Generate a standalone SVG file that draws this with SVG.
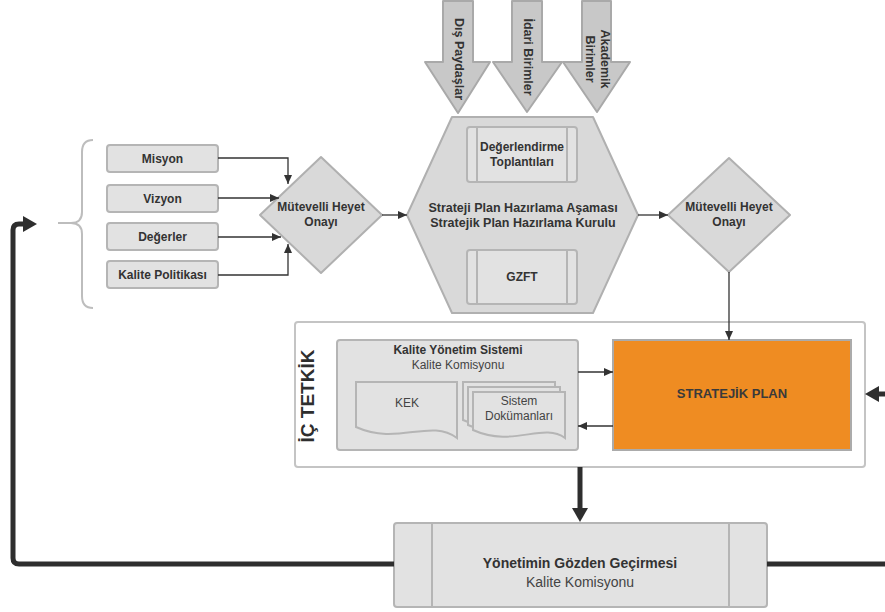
<svg xmlns="http://www.w3.org/2000/svg" width="885" height="612" viewBox="0 0 885 612">
<style>
  text { font-family: "Liberation Sans", Arial, sans-serif; fill: #333; }
  .b { font-weight: bold; font-size: 12px; }
  .v { font-weight: bold; font-size: 12.5px; }
  .r { font-size: 12px; fill: #444; }
  .box { fill: #e2e2e2; stroke: #b5b5b5; stroke-width: 2; }
  .shape { fill: #d9d9d9; stroke: #b0b0b0; stroke-width: 2; }
  .arr { fill: #c8c8c8; stroke: #a9a9a9; stroke-width: 2; stroke-linejoin: round; }
  .thin { fill: none; stroke: #333; stroke-width: 1.3; }
  .thick { fill: none; stroke: #2e2e2e; stroke-width: 5; }
  .sep { stroke: #b5b5b5; stroke-width: 2; }
</style>
<defs>
  <marker id="ah" markerUnits="userSpaceOnUse" markerWidth="9" markerHeight="8" viewBox="0 0 9 8" refX="9" refY="4" orient="auto">
    <path d="M0,0 L9,4 L0,8 z" fill="#333"/>
  </marker>
  <marker id="bh" markerUnits="userSpaceOnUse" markerWidth="14" markerHeight="16" viewBox="0 0 14 16" refX="0" refY="8" orient="auto">
    <path d="M0,0 L14,8 L0,16 z" fill="#2e2e2e"/>
  </marker>
</defs>

<!-- top input arrows -->
<g id="dis-paydaslar">
  <polygon class="arr" points="443,1 473,1 473,62 490,62 458,113 425,62 443,62"/>
  <text class="v" transform="translate(459,59) rotate(90)" y="4" text-anchor="middle">Dış Paydaşlar</text>
</g>
<g id="idari-birimler">
  <polygon class="arr" points="512,1 542,1 542,62 562,62 527,112 493,62 512,62"/>
  <text class="v" transform="translate(528,57) rotate(90)" y="4" text-anchor="middle">İdari Birimler</text>
</g>
<g id="akademik-birimler">
  <polygon class="arr" points="582,1 611,1 611,62 630,62 597,112 563,62 582,62"/>
  <text class="v" transform="translate(597,59) rotate(90)" text-anchor="middle"><tspan x="0" y="-4">Akademik</tspan><tspan x="0" y="11">Birimler</tspan></text>
</g>

<!-- brace -->
<g id="brace">
  <path d="M93,140 Q82,140 82,152 L82,212 Q82,223 71,223 L58,223 M71,223 Q82,223 82,234 L82,296 Q82,308 93,308" fill="none" stroke="#bdbdbd" stroke-width="2"/>
</g>

<!-- left boxes -->
<g id="misyon">
  <rect class="box" x="107" y="145" width="111" height="27" rx="3"/>
  <text class="b" x="162.5" y="163" text-anchor="middle">Misyon</text>
</g>
<g id="vizyon">
  <rect class="box" x="107" y="185" width="111" height="27" rx="3"/>
  <text class="b" x="162.5" y="203" text-anchor="middle">Vizyon</text>
</g>
<g id="degerler">
  <rect class="box" x="107" y="223" width="111" height="27" rx="3"/>
  <text class="b" x="162.5" y="241" text-anchor="middle">Değerler</text>
</g>
<g id="kalite-politikasi">
  <rect class="box" x="107" y="261" width="111" height="27" rx="3"/>
  <text class="b" x="162.5" y="279" text-anchor="middle">Kalite Politikası</text>
</g>

<!-- diamond 1 -->
<g id="onay1">
  <polygon class="shape" points="321,157 382,215 321,273 260,215" stroke-linejoin="round"/>
  <text class="b" x="321" y="211" text-anchor="middle">Mütevelli Heyet</text>
  <text class="b" x="321" y="226" text-anchor="middle">Onayı</text>
</g>

<!-- hexagon -->
<g id="hazirlama">
  <polygon class="shape" points="452,117 593,117 638,215 593,313 452,313 407,215" stroke-linejoin="round"/>
  <rect class="box" x="467" y="127" width="110" height="55" rx="3"/>
  <line class="sep" x1="477" y1="127" x2="477" y2="182"/>
  <line class="sep" x1="567" y1="127" x2="567" y2="182"/>
  <text class="b" x="522" y="151" text-anchor="middle">Değerlendirme</text>
  <text class="b" x="522" y="166" text-anchor="middle">Toplantıları</text>
  <text class="v" x="523" y="212" text-anchor="middle">Strateji Plan Hazırlama Aşaması</text>
  <text class="v" x="523" y="227" text-anchor="middle">Stratejik Plan Hazırlama Kurulu</text>
  <rect class="box" x="467" y="250" width="110" height="54" rx="3"/>
  <line class="sep" x1="477" y1="250" x2="477" y2="304"/>
  <line class="sep" x1="567" y1="250" x2="567" y2="304"/>
  <text class="b" x="522" y="281" text-anchor="middle">GZFT</text>
</g>

<!-- diamond 2 -->
<g id="onay2">
  <polygon class="shape" points="729,158 790,215 729,272 668,215" stroke-linejoin="round"/>
  <text class="b" x="729" y="211" text-anchor="middle">Mütevelli Heyet</text>
  <text class="b" x="729" y="226" text-anchor="middle">Onayı</text>
</g>

<!-- ic tetkik container -->
<g id="ic-tetkik">
  <rect x="295" y="322" width="570" height="145" rx="3" fill="#fff" stroke="#c4c4c4" stroke-width="2"/>
  <text transform="translate(307,396) rotate(-90)" y="7" text-anchor="middle" style="font-weight:bold;font-size:19px;fill:#2e2e2e">İÇ TETKİK</text>
</g>

<g id="kys">
  <rect class="box" x="337" y="340" width="241" height="110" rx="3"/>
  <text class="b" x="458" y="354" text-anchor="middle">Kalite Yönetim Sistemi</text>
  <text class="r" x="458" y="369" text-anchor="middle">Kalite Komisyonu</text>
</g>
<g id="kek">
  <path class="box" d="M356,382 H457 V438 C430,418 398,446 356,427 Z"/>
  <text class="r" x="407" y="407" text-anchor="middle">KEK</text>
</g>
<g id="sistem-dokumanlari">
  <path class="box" d="M463,382 H555 V428 C533,412 503,438 463,420 Z"/>
  <path class="box" d="M468,387 H560 V433 C538,417 508,443 468,425 Z"/>
  <path class="box" d="M473,392 H565 V438 C543,422 513,448 473,430 Z"/>
  <text class="r" x="519" y="405" text-anchor="middle">Sistem</text>
  <text class="r" x="519" y="420" text-anchor="middle">Dokümanları</text>
</g>

<g id="stratejik-plan">
  <rect x="613" y="340" width="238" height="110" fill="#ef8c22" stroke="#ababab" stroke-width="2"/>
  <text x="732" y="398" text-anchor="middle" style="font-weight:bold;font-size:13px;fill:#3a3a3a">STRATEJİK PLAN</text>
</g>

<g id="yonetim">
  <rect class="box" x="394" y="523" width="373" height="84" rx="3"/>
  <line class="sep" x1="432" y1="523" x2="432" y2="607"/>
  <line class="sep" x1="729" y1="523" x2="729" y2="607"/>
  <text x="580" y="568" text-anchor="middle" style="font-weight:bold;font-size:14px">Yönetimin Gözden Geçirmesi</text>
  <text x="580" y="587" text-anchor="middle" style="font-size:14px;fill:#444">Kalite Komisyonu</text>
</g>

<!-- connectors -->
<g id="connectors">
  <path class="thin" d="M218,158 H288 V184" marker-end="url(#ah)"/>
  <path class="thin" d="M218,198 H279" marker-end="url(#ah)"/>
  <path class="thin" d="M218,237 H281" marker-end="url(#ah)"/>
  <path class="thin" d="M218,275 H288 V244" marker-end="url(#ah)"/>
  <path class="thin" d="M382,215 H407" marker-end="url(#ah)"/>
  <path class="thin" d="M638,215 H668" marker-end="url(#ah)"/>
  <path class="thin" d="M729,272 V340" marker-end="url(#ah)"/>
  <path class="thin" d="M578,372 H613" marker-end="url(#ah)"/>
  <path class="thin" d="M613,426 H578" marker-end="url(#ah)"/>
  <path class="thick" d="M580,467 V508" marker-end="url(#bh)"/>
  <path class="thick" d="M885,394 H879" marker-end="url(#bh)"/>
  <path class="thick" d="M767,564 H885"/>
  <path class="thick" d="M394,564 H19 Q13,564 13,558 V230 Q13,224 19,224 H23" marker-end="url(#bh)"/>
</g>
</svg>
